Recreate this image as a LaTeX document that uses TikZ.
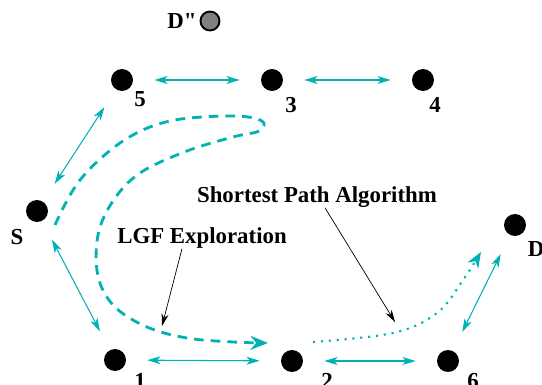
\documentclass[tikz,border=0pt]{standalone}
\usepackage{fontspec}
\setmainfont{Liberation Serif}
\usetikzlibrary{arrows.meta,positioning}
\definecolor{seagreen}{RGB}{0,178,178}
\tikzset{
    >={Stealth[length=7pt,width=4pt]},
    hop/.style={
           circle,
           fill=black,
           minimum size=0.44cm,
           inner sep=0pt},
    ghost/.style={
           circle,
           draw=black, line width=1.1pt,
           fill=black!50,
           minimum size=0.38cm,
           inner sep=0pt},
    lbl/.style={
           font=\fontsize{13}{15}\selectfont\bfseries,
           inner sep=0pt},
    link/.style={
           <->,
           seagreen, line width=0.6pt,
           >={Stealth[length=7.5pt,width=4.5pt,inset=2pt]},
           shorten <=0.42cm, shorten >=0.42cm},
    explore/.style={
           ->,
           seagreen, line width=1.6pt,
           dash pattern=on 5.5pt off 4pt,
           >={Stealth[length=10pt,width=8pt]}},
    shortest/.style={
           ->,
           seagreen, line width=1.2pt,
           dash pattern=on 1.2pt off 3.3pt,
           >={Stealth[length=9pt,width=7pt]}},
    pointer/.style={
           ->,
           thin}
}
\begin{document}
\begin{tikzpicture}[x=0.02cm, y=-0.02cm]
        \useasboundingbox (0,0) rectangle (542,385);
        % hosts
        \node[hop] (S) at (37,211) {};
        \node[hop] (n5) at (122,80) {};
        \node[hop] (n3) at (272,80) {};
        \node[hop] (n4) at (423,80) {};
        \node[hop] (n1) at (115,360) {};
        \node[hop] (n2) at (292,361) {};
        \node[hop] (n6) at (448,361) {};
        \node[hop] (D) at (515,225) {};
        \node[ghost] (Dpp) at (210,21) {};
        % names
        \node[lbl] (labS) at (17,237) {S};
        \node[lbl] (lab5) at (140,99) {5};
        \node[lbl] (lab3) at (291,105) {3};
        \node[lbl] (lab4) at (435,105) {4};
        \node[lbl] (lab1) at (140,381) {1};
        \node[lbl] (lab2) at (327,381) {2};
        \node[lbl] (lab6) at (473,381) {6};
        \node[lbl] (labD) at (536,249) {D};
        \node[lbl] (labDpp) at (182,21) {\addfontfeatures{Ligatures=TeXOff}D"};
        % links
        \draw[link] (S) -- (n5);
        \draw[link] (n5) -- (n3);
        \draw[link] (n3) -- (n4);
        \draw[link] (S) -- (n1);
        \draw[link] (n1) -- (n2);
        \draw[link] (n2) -- (n6);
        \draw[link] (n6) -- (D);
        % routes
        \draw[explore] plot[smooth, tension=0.6] coordinates {(55,225) (80,180) (123,141) (170,121)
            (233,116) (262,121) (259,131) (233,137) (187,151) (140,173) (113,201)
            (98,235) (98,276) (114,306) (147,327) (187,338) (233,342) (268,343)};
        \draw[shortest] plot[smooth, tension=0.6] coordinates {(313,342) (393,333) (437,313)
            (463,280) (481,252)};
        % captions
        \node[lbl] (spa) at (317,197) {Shortest Path Algorithm};
        \node[lbl] (lgf) at (202,238) {LGF Exploration};
        \coordinate (spaTip) at (395,322);
        \coordinate (lgfTip) at (162,326);
        \draw[pointer] (spa.south) ++(8,0) -- (spaTip);
        \draw[pointer] (lgf.south) ++(-20,0) -- (lgfTip);
\end{tikzpicture}
\end{document}
